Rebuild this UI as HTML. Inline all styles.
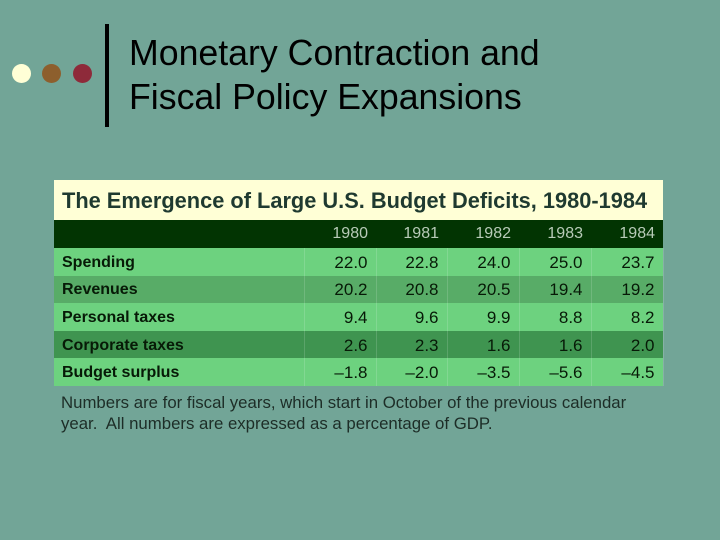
<!DOCTYPE html>
<html><head><meta charset="utf-8"><style>
body{margin:0;width:720px;height:540px;background:#72A597;position:relative;overflow:hidden;font-family:"Liberation Sans",sans-serif}
.dot{position:absolute;top:64px;width:19px;height:19px;border-radius:50%}
#bar{position:absolute;left:105px;top:24px;width:4px;height:103px;background:#000}
#title{position:absolute;left:129px;top:31px;font-size:35.7px;line-height:44px;color:#000}
#tbl{position:absolute;left:54px;top:180px;width:609px}
#cap{height:40px;background:#FFFFD6;color:#1f3a30;font-size:21.8px;line-height:42px;padding-left:8px;font-weight:bold;white-space:nowrap}
table{border-collapse:collapse;width:609px;table-layout:fixed}
td{height:25.6px;padding:2px 8px 0;font-size:16px;font-weight:bold;color:#071a07;border-right:1px solid rgba(255,255,255,0.15)}
td.n{text-align:right;font-weight:normal;font-size:17px}
tr.h td{background:#023402;color:#b8cbb8;font-weight:normal;text-align:right;height:28px;padding-top:0;border:none;font-size:16px}
tr.l td{background:#6DD27F}
tr.d1 td{background:#58AC67}
tr.d2 td{background:#3F9450}
#note{position:absolute;left:61px;top:392px;font-size:16.8px;line-height:21px;color:#1d2d27;width:640px;white-space:nowrap}
</style></head><body>
<div class="dot" style="left:12px;background:#FFFFD6"></div>
<div class="dot" style="left:42px;background:#8D5F2D"></div>
<div class="dot" style="left:73px;background:#8E2A3A"></div>
<div id="bar"></div>
<div id="title">Monetary Contraction and<br>Fiscal Policy Expansions</div>
<div id="tbl">
<div id="cap">The Emergence of Large U.S. Budget Deficits, 1980-1984</div>
<table>
<colgroup><col style="width:250px"><col style="width:72px"><col style="width:71px"><col style="width:72px"><col style="width:72px"><col style="width:72px"></colgroup>
<tr class="h"><td></td><td>1980</td><td>1981</td><td>1982</td><td>1983</td><td>1984</td></tr>
<tr class="l"><td>Spending</td><td class="n">22.0</td><td class="n">22.8</td><td class="n">24.0</td><td class="n">25.0</td><td class="n">23.7</td></tr>
<tr class="d1"><td>Revenues</td><td class="n">20.2</td><td class="n">20.8</td><td class="n">20.5</td><td class="n">19.4</td><td class="n">19.2</td></tr>
<tr class="l"><td>Personal taxes</td><td class="n">9.4</td><td class="n">9.6</td><td class="n">9.9</td><td class="n">8.8</td><td class="n">8.2</td></tr>
<tr class="d2"><td>Corporate taxes</td><td class="n">2.6</td><td class="n">2.3</td><td class="n">1.6</td><td class="n">1.6</td><td class="n">2.0</td></tr>
<tr class="l"><td>Budget surplus</td><td class="n">–1.8</td><td class="n">–2.0</td><td class="n">–3.5</td><td class="n">–5.6</td><td class="n">–4.5</td></tr>
</table></div>
<div id="note">Numbers are for fiscal years, which start in October of the previous calendar<br>year.&nbsp; All numbers are expressed as a percentage of GDP.</div>
</body></html>
